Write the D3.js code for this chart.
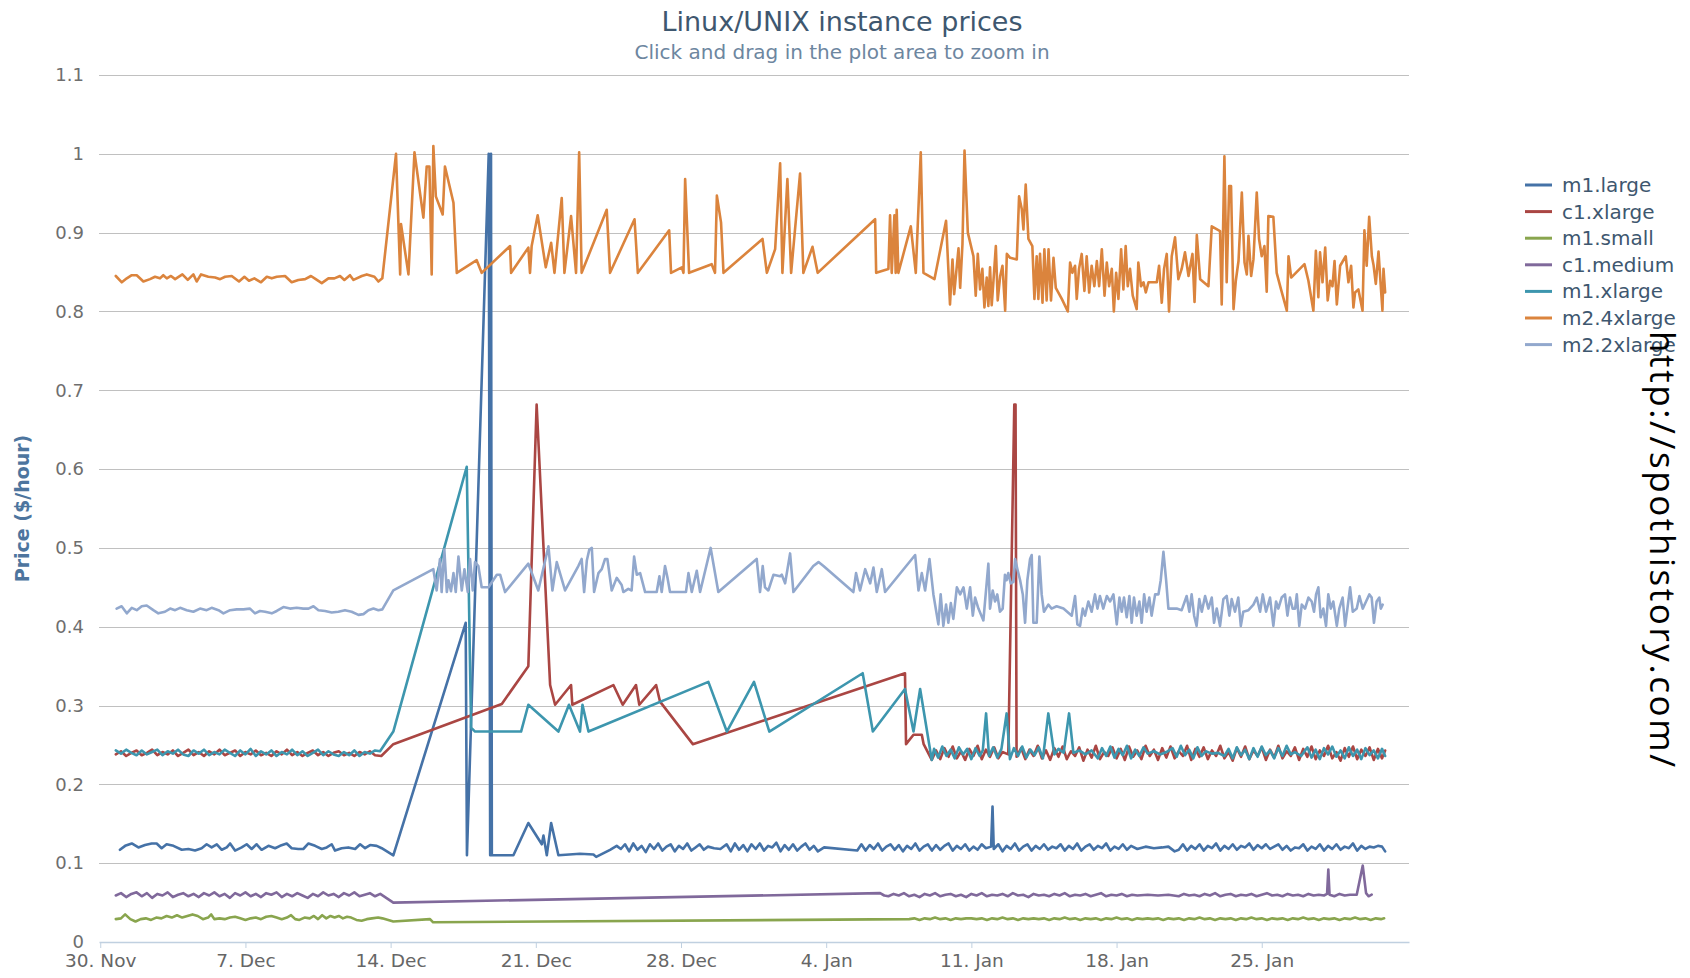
<!DOCTYPE html>
<html>
<head>
<meta charset="utf-8">
<title>Linux/UNIX instance prices</title>
<script src="https://cdn.jsdelivr.net/npm/d3@7"></script>
<style>
  html, body { margin: 0; padding: 0; background: #fff; }
  svg { display: block; font-family: "DejaVu Sans", sans-serif; }
</style>
</head>
<body>
<svg id="chart" width="1690" height="978"></svg>
<script>
// x values are days since 30 Nov 2009 (00:00 UTC), y values are $/hour
const startDate = Date.UTC(2009, 10, 30);

const seriesNames = ["m1.large", "c1.xlarge", "m1.small", "c1.medium", "m1.xlarge", "m2.4xlarge", "m2.2xlarge"];
const seriesColors = ["#4572A7", "#AA4643", "#89A54E", "#80699B", "#3D96AE", "#DB843D", "#92A8CD"];

const yTicks = [0, 0.1, 0.2, 0.3, 0.4, 0.5, 0.6, 0.7, 0.8, 0.9, 1, 1.1];
const xTickDates = ["2009-11-30", "2009-12-07", "2009-12-14", "2009-12-21", "2009-12-28", "2010-01-04", "2010-01-11", "2010-01-18", "2010-01-25"];

const m1Large = [
  [0.95,0.117],[1.20,0.122],[1.52,0.125],[1.84,0.120],[2.16,0.123],[2.48,0.125],[2.72,0.125],[2.96,0.119],[3.20,0.124],[3.53,0.122],
  [3.93,0.117],[4.25,0.118],[4.57,0.116],[4.89,0.119],[5.13,0.124],[5.37,0.120],[5.62,0.124],[5.86,0.117],[6.10,0.120],[6.26,0.125],
  [6.50,0.116],[6.82,0.120],[7.06,0.124],[7.30,0.118],[7.54,0.124],[7.78,0.117],[8.11,0.122],[8.43,0.119],[8.67,0.122],[8.99,0.125],
  [9.23,0.119],[9.55,0.118],[9.79,0.118],[10.04,0.125],[10.36,0.122],[10.68,0.118],[10.92,0.120],[11.16,0.124],[11.32,0.116],[11.64,0.119],
  [11.96,0.120],[12.29,0.118],[12.53,0.124],[12.77,0.119],[13.01,0.123],[13.33,0.122],[13.57,0.119],[14.13,0.110],
  [17.62,0.405],[17.68,0.110],[18.73,1.0],[18.80,0.110],[18.84,1.0],[18.88,0.110],
  [19.92,0.110],[20.64,0.151],[21.29,0.124],[21.37,0.135],[21.53,0.110],[21.74,0.151],[22.09,0.110],
  [23.13,0.112],[23.78,0.111],[23.91,0.108],[24.58,0.117],[24.90,0.122],
  [25.1,0.118],[25.3,0.124],[25.5,0.115],[25.7,0.125],[25.9,0.117],[26.1,0.122],[26.3,0.114],[26.5,0.124],[26.7,0.118],[26.9,0.125],
  [27.1,0.116],[27.3,0.121],[27.5,0.124],[27.7,0.115],[27.9,0.122],[28.1,0.118],[28.3,0.125],[28.5,0.116],[28.7,0.120],[28.9,0.124],
  [29.1,0.117],[29.3,0.121],[29.6,0.119],[29.9,0.118],[30.2,0.124],[30.4,0.115],[30.6,0.125],[30.8,0.117],[31.0,0.123],[31.2,0.115],
  [31.4,0.124],[31.6,0.118],[31.8,0.125],[32.0,0.116],[32.2,0.122],[32.4,0.120],[32.6,0.126],[32.8,0.115],[33.0,0.123],[33.2,0.117],
  [33.4,0.124],[33.6,0.116],[33.8,0.121],[34.0,0.125],[34.2,0.117],[34.4,0.122],[34.6,0.115],[34.9,0.120],[36.5,0.116],
  [36.7,0.124],[36.9,0.116],[37.1,0.123],[37.3,0.118],[37.5,0.125],[37.7,0.116],[37.9,0.121],[38.1,0.124],[38.3,0.117],[38.5,0.123],
  [38.7,0.115],[38.9,0.122],[39.1,0.118],[39.3,0.125],[39.5,0.116],[39.7,0.121],[39.9,0.124],[40.1,0.116],[40.3,0.123],[40.5,0.117],
  [40.7,0.122],[40.9,0.125],[41.1,0.116],[41.3,0.122],[41.5,0.118],[41.7,0.124],[41.9,0.116],[42.1,0.121],[42.3,0.117],[42.5,0.124],
  [42.7,0.119],[42.95,0.121],[43.02,0.172],[43.08,0.118],
  [43.3,0.124],[43.5,0.115],[43.7,0.122],[43.9,0.118],[44.1,0.125],[44.3,0.116],[44.5,0.121],[44.7,0.124],[44.9,0.116],[45.1,0.122],
  [45.3,0.118],[45.5,0.124],[45.7,0.117],[45.9,0.121],[46.1,0.119],[46.3,0.124],[46.5,0.116],[46.7,0.122],[46.9,0.118],[47.1,0.125],
  [47.3,0.116],[47.5,0.121],[47.7,0.124],[47.9,0.117],[48.1,0.122],[48.3,0.119],[48.5,0.125],[48.7,0.116],[48.9,0.121],[49.1,0.118],
  [49.3,0.124],[49.5,0.117],[49.7,0.122],[50.0,0.118],[50.4,0.121],[50.8,0.119],[51.2,0.120],[51.5,0.121],[51.8,0.115],[52.0,0.117],
  [52.2,0.124],[52.4,0.116],[52.6,0.122],[52.8,0.118],[53.0,0.124],[53.2,0.116],[53.4,0.122],[53.6,0.119],[53.8,0.125],[54.0,0.116],
  [54.2,0.122],[54.4,0.118],[54.6,0.124],[54.8,0.117],[55.0,0.122],[55.2,0.120],[55.4,0.125],[55.6,0.117],[55.8,0.123],[56.0,0.119],
  [56.2,0.124],[56.4,0.118],[56.6,0.121],[56.8,0.124],[57.0,0.117],[57.2,0.122],[57.4,0.116],[57.6,0.120],[57.8,0.119],[58.0,0.124],
  [58.2,0.116],[58.4,0.121],[58.6,0.118],[58.8,0.124],[59.0,0.116],[59.2,0.122],[59.4,0.118],[59.6,0.124],[59.8,0.117],[60.0,0.121],
  [60.2,0.119],[60.4,0.125],[60.6,0.116],[60.8,0.122],[61.0,0.118],[61.2,0.121],[61.4,0.120],[61.6,0.122],[61.8,0.121],[61.95,0.115]
];

const c1Xlarge = [
  [0.75,0.238],[1.0,0.242],[1.25,0.236],[1.5,0.240],[1.75,0.243],[2.0,0.237],[2.25,0.240],[2.5,0.244],[2.75,0.237],[3.0,0.241],
  [3.25,0.238],[3.5,0.243],[3.75,0.236],[4.0,0.240],[4.25,0.244],[4.5,0.237],[4.75,0.241],[5.0,0.236],[5.25,0.242],[5.5,0.238],
  [5.75,0.244],[6.0,0.237],[6.25,0.240],[6.5,0.243],[6.75,0.236],[7.0,0.241],[7.25,0.238],[7.5,0.243],[7.75,0.237],[8.0,0.240],
  [8.25,0.236],[8.5,0.242],[8.75,0.238],[9.0,0.244],[9.25,0.237],[9.5,0.241],[9.75,0.236],[10.0,0.240],[10.25,0.243],[10.5,0.237],
  [10.75,0.241],[11.0,0.236],[11.25,0.240],[11.5,0.242],[11.75,0.237],[12.0,0.240],[12.25,0.236],[12.5,0.241],[12.75,0.238],[13.0,0.242],
  [13.25,0.237],[13.55,0.236],
  [14.13,0.251],[19.36,0.302],[20.64,0.350],[21.04,0.682],[21.69,0.326],[21.93,0.301],[22.70,0.326],[22.76,0.301],
  [24.74,0.326],[25.19,0.301],[25.83,0.326],[25.99,0.301],[26.80,0.326],[26.99,0.305],[28.57,0.251],[38.80,0.341],[38.85,0.251],
  [39.21,0.263],[39.61,0.263],[39.70,0.251],[40.09,0.231],
  [40.3,0.243],[40.5,0.232],[40.7,0.246],[40.9,0.235],[41.1,0.248],[41.3,0.233],[41.5,0.242],[41.7,0.231],[41.9,0.245],[42.1,0.236],
  [42.3,0.249],[42.5,0.232],[42.7,0.244],[42.9,0.235],[43.1,0.247],[43.3,0.233],[43.5,0.241],[43.78,0.238],[44.07,0.682],[44.13,0.682],
  [44.18,0.235],[44.4,0.246],[44.6,0.232],[44.8,0.244],[45.0,0.236],[45.2,0.249],[45.4,0.233],[45.6,0.243],[45.8,0.231],[46.0,0.246],
  [46.2,0.235],[46.4,0.248],[46.6,0.232],[46.8,0.242],[47.0,0.236],[47.2,0.247],[47.4,0.230],[47.6,0.244],[47.8,0.234],[48.0,0.249],
  [48.2,0.232],[48.4,0.241],[48.6,0.236],[48.8,0.247],[49.0,0.233],[49.2,0.245],[49.4,0.231],[49.6,0.248],[49.8,0.235],[50.0,0.243],
  [50.2,0.232],[50.4,0.249],[50.6,0.236],[50.8,0.244],[51.0,0.231],[51.2,0.246],[51.4,0.234],[51.6,0.248],[51.8,0.233],[52.0,0.242],
  [52.2,0.236],[52.4,0.249],[52.6,0.231],[52.8,0.245],[53.0,0.235],[53.2,0.247],[53.4,0.232],[53.6,0.243],[53.8,0.236],[54.0,0.249],
  [54.2,0.233],[54.4,0.241],[54.6,0.230],[54.8,0.246],[55.0,0.235],[55.2,0.248],[55.4,0.232],[55.6,0.243],[55.8,0.236],[56.0,0.247],
  [56.2,0.231],[56.4,0.244],[56.6,0.234],[56.8,0.249],[57.0,0.233],[57.2,0.242],[57.4,0.236],[57.6,0.247],[57.8,0.231],[58.0,0.245],
  [58.2,0.235],[58.4,0.248],[58.6,0.232],[58.8,0.243],[59.0,0.236],[59.2,0.249],[59.4,0.233],[59.6,0.241],[59.8,0.230],[60.0,0.246],
  [60.2,0.235],[60.4,0.248],[60.6,0.232],[60.8,0.244],[61.0,0.236],[61.2,0.247],[61.4,0.231],[61.6,0.245],[61.8,0.233],[61.95,0.243]
];

const m1Small = [
  [0.75,0.029],[1.0,0.030],[1.2,0.035],[1.45,0.029],[1.7,0.026],[1.95,0.029],[2.2,0.030],[2.45,0.028],[2.7,0.031],[2.95,0.030],
  [3.2,0.033],[3.45,0.031],[3.7,0.034],[3.95,0.031],[4.2,0.033],[4.45,0.035],[4.7,0.033],[4.95,0.029],[5.2,0.031],[5.35,0.035],
  [5.5,0.029],[5.75,0.030],[6.0,0.029],[6.25,0.031],[6.5,0.032],[6.75,0.030],[7.0,0.028],[7.25,0.030],[7.5,0.031],[7.75,0.029],
  [8.0,0.032],[8.25,0.033],[8.5,0.031],[8.75,0.029],[9.0,0.031],[9.2,0.034],[9.4,0.029],[9.6,0.028],[9.85,0.031],[10.1,0.030],
  [10.3,0.033],[10.5,0.029],[10.7,0.034],[10.9,0.030],[11.1,0.033],[11.3,0.031],[11.5,0.033],[11.7,0.030],[11.9,0.032],[12.1,0.031],
  [12.35,0.028],[12.6,0.027],[12.85,0.029],[13.1,0.030],[13.4,0.031],[13.6,0.030],[14.13,0.026],[15.9,0.029],[16.05,0.025],[39.0,0.029],
  [39.25,0.030],[39.5,0.028],[39.75,0.030],[40.0,0.029],[40.25,0.031],[40.5,0.029],[40.75,0.030],[41.0,0.028],[41.25,0.030],[41.5,0.029],
  [41.75,0.030],[42.0,0.030],[42.25,0.029],[42.5,0.030],[42.75,0.028],[43.0,0.030],[43.25,0.029],[43.5,0.031],[43.75,0.029],[44.0,0.030],
  [44.25,0.028],[44.5,0.030],[44.75,0.029],[45.0,0.030],[45.25,0.029],[45.5,0.030],[45.75,0.028],[46.0,0.030],[46.25,0.029],[46.5,0.031],
  [46.75,0.029],[47.0,0.030],[47.25,0.028],[47.5,0.030],[47.75,0.029],[48.0,0.030],[48.25,0.028],[48.5,0.030],[48.75,0.029],[49.0,0.031],
  [49.25,0.029],[49.5,0.030],[49.75,0.028],[50.0,0.030],[50.25,0.029],[50.5,0.030],[50.75,0.029],[51.0,0.030],[51.25,0.028],[51.5,0.030],
  [51.75,0.029],[52.0,0.030],[52.25,0.028],[52.5,0.030],[52.75,0.029],[53.0,0.031],[53.25,0.029],[53.5,0.030],[53.75,0.028],[54.0,0.030],
  [54.25,0.029],[54.5,0.030],[54.75,0.028],[55.0,0.030],[55.25,0.029],[55.5,0.031],[55.75,0.029],[56.0,0.030],[56.25,0.028],[56.5,0.030],
  [56.75,0.029],[57.0,0.030],[57.25,0.028],[57.5,0.030],[57.75,0.029],[58.0,0.031],[58.25,0.029],[58.5,0.030],[58.75,0.028],[59.0,0.030],
  [59.25,0.029],[59.5,0.030],[59.75,0.028],[60.0,0.030],[60.25,0.029],[60.5,0.031],[60.75,0.029],[61.0,0.030],[61.25,0.028],[61.5,0.030],
  [61.75,0.029],[61.9,0.030]
];

const c1Medium = [
  [0.75,0.059],[1.0,0.062],[1.25,0.057],[1.5,0.061],[1.75,0.063],[2.0,0.058],[2.25,0.062],[2.5,0.056],[2.75,0.061],[3.0,0.059],
  [3.25,0.063],[3.5,0.057],[3.75,0.060],[4.0,0.062],[4.25,0.058],[4.5,0.061],[4.75,0.057],[5.0,0.062],[5.25,0.059],[5.5,0.063],
  [5.75,0.058],[6.0,0.061],[6.25,0.056],[6.5,0.062],[6.75,0.059],[7.0,0.063],[7.25,0.058],[7.5,0.061],[7.75,0.057],[8.0,0.062],
  [8.25,0.060],[8.5,0.063],[8.75,0.057],[9.0,0.061],[9.25,0.058],[9.5,0.062],[9.75,0.059],[10.0,0.056],[10.25,0.061],[10.5,0.058],
  [10.75,0.063],[11.0,0.059],[11.25,0.061],[11.5,0.057],[11.75,0.062],[12.0,0.059],[12.25,0.063],[12.5,0.058],[12.75,0.060],[13.0,0.062],
  [13.25,0.058],[13.5,0.061],[14.13,0.050],[37.6,0.062],[37.8,0.059],
  [38.0,0.058],[38.25,0.061],[38.5,0.059],[38.75,0.062],[39.0,0.058],[39.25,0.060],[39.5,0.057],[39.75,0.061],[40.0,0.059],[40.25,0.062],
  [40.5,0.058],[40.75,0.060],[41.0,0.061],[41.25,0.058],[41.5,0.060],[41.75,0.057],[42.0,0.061],[42.25,0.059],[42.5,0.062],[42.75,0.058],
  [43.0,0.060],[43.25,0.059],[43.5,0.061],[43.75,0.058],[44.0,0.062],[44.25,0.059],[44.5,0.060],[44.75,0.057],[45.0,0.061],[45.25,0.059],
  [45.5,0.060],[45.75,0.058],[46.0,0.061],[46.25,0.059],[46.5,0.062],[46.75,0.058],[47.0,0.060],[47.25,0.059],[47.5,0.061],[47.75,0.058],
  [48.0,0.060],[48.25,0.062],[48.5,0.058],[48.75,0.060],[49.0,0.059],[49.25,0.061],[49.5,0.058],[49.75,0.060],[50.0,0.059],[50.5,0.060],
  [51.0,0.059],[51.5,0.060],[52.0,0.058],[52.25,0.061],[52.5,0.059],[52.75,0.060],[53.0,0.058],[53.25,0.061],[53.5,0.059],[53.75,0.062],
  [54.0,0.058],[54.25,0.060],[54.5,0.061],[54.75,0.058],[55.0,0.060],[55.25,0.059],[55.5,0.061],[55.75,0.058],[56.0,0.060],[56.25,0.062],
  [56.5,0.059],[56.75,0.060],[57.0,0.058],[57.25,0.061],[57.5,0.059],[57.75,0.060],[58.0,0.058],[58.25,0.061],[58.5,0.059],[58.75,0.060],
  [59.0,0.059],[59.15,0.061],[59.21,0.092],[59.27,0.060],[59.5,0.058],[59.75,0.061],[60.0,0.059],[60.25,0.060],[60.58,0.060],[60.87,0.097],
  [61.03,0.062],[61.15,0.058],[61.30,0.060]
];

const m1Xlarge = [
  [0.75,0.243],[1.0,0.239],[1.25,0.244],[1.5,0.240],[1.75,0.237],[2.0,0.243],[2.25,0.238],[2.5,0.241],[2.75,0.244],[3.0,0.237],
  [3.25,0.242],[3.5,0.239],[3.75,0.244],[4.0,0.238],[4.25,0.236],[4.5,0.243],[4.75,0.239],[5.0,0.244],[5.25,0.237],[5.5,0.241],
  [5.75,0.238],[6.0,0.244],[6.25,0.240],[6.5,0.236],[6.75,0.243],[7.0,0.238],[7.25,0.245],[7.5,0.236],[7.75,0.242],[8.0,0.238],
  [8.25,0.243],[8.5,0.236],[8.75,0.241],[9.0,0.238],[9.25,0.244],[9.5,0.237],[9.75,0.242],[10.0,0.236],[10.25,0.240],[10.5,0.244],
  [10.75,0.237],[11.0,0.242],[11.25,0.238],[11.5,0.236],[11.75,0.241],[12.0,0.237],[12.25,0.243],[12.5,0.236],[12.75,0.241],[13.0,0.239],
  [13.25,0.243],[13.49,0.242],
  [14.13,0.267],[17.67,0.603],[17.88,0.272],[18.07,0.267],[20.29,0.267],[20.64,0.301],[22.09,0.267],[22.60,0.301],[23.13,0.267],[23.25,0.301],
  [23.54,0.267],[29.32,0.330],[30.21,0.267],[31.52,0.330],[32.26,0.267],[36.76,0.341],[37.25,0.267],[38.80,0.321],[39.21,0.267],[39.53,0.321],
  [40.09,0.231],
  [40.2,0.245],[40.4,0.234],[40.6,0.248],[40.8,0.236],[41.0,0.244],[41.2,0.233],[41.4,0.247],[41.6,0.238],[41.8,0.245],[42.0,0.232],
  [42.2,0.246],[42.4,0.236],[42.55,0.243],[42.71,0.290],[42.85,0.236],[43.05,0.247],[43.25,0.234],[43.45,0.245],[43.70,0.290],[43.86,0.232],
  [44.05,0.246],[44.25,0.236],[44.45,0.248],[44.65,0.234],[44.85,0.244],[45.05,0.237],[45.25,0.247],[45.45,0.233],[45.71,0.290],[46.0,0.238],
  [46.2,0.245],[46.45,0.240],[46.71,0.290],[46.92,0.240],[47.2,0.243],[47.5,0.238],[47.8,0.243],[48.1,0.233],[48.3,0.246],[48.5,0.236],
  [48.7,0.248],[48.9,0.234],[49.1,0.245],[49.3,0.237],[49.5,0.249],[49.7,0.233],[49.9,0.244],[50.1,0.236],[50.3,0.247],[50.5,0.239],
  [50.8,0.242],[51.1,0.238],[51.4,0.241],[51.7,0.246],[51.9,0.235],[52.1,0.249],[52.3,0.237],[52.5,0.244],[52.7,0.233],[52.9,0.247],
  [53.1,0.236],[53.3,0.242],[53.6,0.239],[53.9,0.240],[54.2,0.236],[54.4,0.245],[54.6,0.233],[54.8,0.247],[55.0,0.237],[55.2,0.244],
  [55.4,0.232],[55.6,0.246],[55.8,0.235],[56.0,0.248],[56.2,0.237],[56.4,0.243],[56.6,0.233],[56.8,0.246],[57.0,0.236],[57.2,0.249],
  [57.4,0.238],[57.6,0.241],[57.9,0.236],[58.2,0.247],[58.4,0.234],[58.6,0.244],[58.8,0.232],[59.0,0.246],[59.2,0.238],[59.4,0.248],
  [59.6,0.235],[59.8,0.243],[60.0,0.233],[60.2,0.247],[60.4,0.236],[60.6,0.244],[60.8,0.232],[61.0,0.246],[61.2,0.237],[61.4,0.243],
  [61.6,0.233],[61.8,0.245],[61.95,0.236]
];

const m24xlarge = [
  [0.75,0.845],[1.04,0.837],[1.28,0.842],[1.52,0.846],[1.76,0.846],[2.08,0.838],[2.40,0.841],[2.64,0.844],[2.88,0.842],[3.04,0.846],
  [3.21,0.842],[3.41,0.845],[3.61,0.841],[3.96,0.847],[4.22,0.840],[4.49,0.847],[4.65,0.838],[4.86,0.847],[5.21,0.844],[5.54,0.843],
  [5.78,0.841],[6.02,0.844],[6.34,0.845],[6.69,0.838],[6.95,0.844],[7.17,0.839],[7.43,0.842],[7.75,0.837],[8.03,0.844],[8.27,0.842],
  [8.51,0.844],[8.91,0.845],[9.23,0.837],[9.55,0.840],[9.88,0.841],[10.16,0.845],[10.39,0.841],[10.68,0.836],[11.00,0.842],[11.29,0.842],
  [11.56,0.845],[11.77,0.840],[12.04,0.846],[12.21,0.840],[12.61,0.845],[12.85,0.847],[13.22,0.844],[13.41,0.838],[13.60,0.842],
  [14.26,1.000],[14.46,0.847],[14.50,0.911],[14.86,0.847],[15.15,1.002],[15.58,0.919],[15.74,0.984],[15.87,0.984],[15.98,0.847],[16.06,1.010],
  [16.18,0.946],[16.51,0.923],[16.62,0.984],[17.03,0.938],[17.19,0.849],[18.15,0.865],[18.39,0.849],[19.76,0.883],[19.81,0.849],[20.64,0.881],
  [20.72,0.849],[20.80,0.883],[21.09,0.922],[21.48,0.856],[21.74,0.887],[21.90,0.849],[22.25,0.944],[22.38,0.849],[22.70,0.921],[22.94,0.849],
  [23.09,1.002],[23.21,0.849],[24.42,0.929],[24.58,0.849],[25.76,0.917],[25.92,0.849],[27.43,0.903],[27.52,0.849],[28.04,0.856],[28.12,0.849],
  [28.20,0.968],[28.39,0.849],[29.48,0.860],[29.64,0.849],[29.73,0.947],[29.93,0.913],[30.05,0.849],[31.93,0.892],[32.14,0.849],[32.54,0.879],
  [32.78,0.988],[32.89,0.849],[33.13,0.968],[33.31,0.849],[33.74,0.975],[33.90,0.849],[34.34,0.882],[34.59,0.849],[37.36,0.917],[37.41,0.849],
  [38.00,0.854],[38.08,0.922],[38.16,0.849],[38.29,0.922],[38.35,0.849],[38.40,0.929],[38.48,0.849],[39.08,0.908],[39.32,0.849],[39.56,1.002],
  [39.69,0.849],[40.22,0.841],[40.78,0.915],[40.97,0.809],[41.09,0.866],[41.17,0.822],[41.38,0.880],[41.46,0.830],[41.57,0.885],[41.67,1.004],
  [41.83,0.900],[42.10,0.870],[42.21,0.820],[42.31,0.873],[42.42,0.828],[42.53,0.854],[42.63,0.805],[42.74,0.843],[42.82,0.807],[42.90,0.856],
  [42.98,0.808],[43.06,0.837],[43.18,0.883],[43.27,0.814],[43.39,0.845],[43.50,0.858],[43.63,0.801],[43.71,0.873],[43.87,0.868],[44.19,0.866],
  [44.30,0.946],[44.43,0.930],[44.51,0.904],[44.62,0.961],[44.75,0.892],[44.94,0.883],[45.04,0.816],[45.15,0.870],[45.23,0.816],[45.31,0.873],
  [45.43,0.811],[45.52,0.879],[45.63,0.814],[45.72,0.879],[45.84,0.814],[45.96,0.868],[46.07,0.830],[46.36,0.816],[46.65,0.800],[46.76,0.862],
  [46.87,0.849],[47.00,0.858],[47.08,0.816],[47.19,0.854],[47.32,0.873],[47.45,0.826],[47.56,0.870],[47.68,0.824],[47.80,0.858],[47.93,0.832],
  [48.05,0.864],[48.16,0.832],[48.29,0.879],[48.42,0.820],[48.53,0.862],[48.64,0.832],[48.77,0.854],[48.87,0.800],[48.98,0.849],[49.09,0.816],
  [49.22,0.879],[49.33,0.828],[49.44,0.883],[49.54,0.832],[49.65,0.854],[49.78,0.820],[49.97,0.803],[50.05,0.862],[50.18,0.832],[50.30,0.837],
  [50.41,0.824],[50.54,0.837],[50.94,0.837],[51.05,0.858],[51.18,0.811],[51.29,0.854],[51.42,0.873],[51.53,0.800],[51.66,0.870],[51.82,0.894],
  [51.98,0.841],[52.14,0.854],[52.30,0.875],[52.47,0.845],[52.66,0.873],[52.76,0.812],[52.87,0.897],[53.03,0.841],[53.43,0.832],[53.59,0.908],
  [53.99,0.902],[54.07,0.809],[54.20,0.997],[54.31,0.837],[54.43,0.959],[54.52,0.959],[54.64,0.803],[54.75,0.839],[54.88,0.864],[55.04,0.951],
  [55.17,0.862],[55.28,0.847],[55.36,0.896],[55.49,0.845],[55.60,0.866],[55.76,0.951],[55.87,0.892],[56.00,0.870],[56.13,0.883],[56.24,0.825],
  [56.32,0.921],[56.56,0.920],[56.72,0.849],[56.93,0.828],[57.21,0.801],[57.29,0.870],[57.42,0.843],[58.06,0.860],[58.25,0.839],[58.49,0.801],
  [58.61,0.877],[58.73,0.818],[58.81,0.875],[58.93,0.837],[59.06,0.881],[59.18,0.814],[59.30,0.839],[59.41,0.832],[59.51,0.864],[59.62,0.809],
  [59.78,0.858],[60.05,0.870],[60.18,0.837],[60.31,0.858],[60.42,0.805],[60.50,0.824],[60.66,0.828],[60.86,0.801],[60.95,0.903],[61.06,0.858],
  [61.18,0.920],[61.31,0.870],[61.39,0.859],[61.50,0.835],[61.63,0.876],[61.75,0.828],[61.82,0.801],[61.87,0.854],[61.95,0.824]
];

const m22xlarge = [
  [0.79,0.423],[1.03,0.426],[1.28,0.417],[1.52,0.424],[1.76,0.421],[2.00,0.426],[2.24,0.427],[2.56,0.421],[2.80,0.417],[3.12,0.419],
  [3.37,0.423],[3.61,0.421],[3.85,0.424],[4.17,0.421],[4.49,0.419],[4.81,0.423],[5.13,0.421],[5.37,0.424],[5.70,0.421],[5.94,0.417],
  [6.26,0.421],[6.58,0.422],[6.90,0.422],[7.22,0.423],[7.46,0.417],[7.70,0.420],[7.95,0.419],[8.27,0.417],[8.51,0.420],[8.83,0.425],
  [9.15,0.423],[9.47,0.424],[9.79,0.423],[10.04,0.423],[10.28,0.426],[10.52,0.421],[10.84,0.420],[11.16,0.418],[11.48,0.419],[11.80,0.421],
  [12.12,0.419],[12.45,0.415],[12.69,0.416],[12.93,0.421],[13.17,0.423],[13.41,0.421],[13.60,0.422],[14.13,0.446],[16.06,0.473],[16.22,0.446],
  [16.38,0.486],[16.46,0.444],[16.59,0.498],[16.71,0.444],[16.79,0.459],[16.91,0.445],[17.03,0.468],[17.14,0.444],[17.27,0.489],[17.43,0.446],
  [17.56,0.473],[17.72,0.444],[17.83,0.486],[17.96,0.446],[18.07,0.482],[18.23,0.477],[18.39,0.450],[18.72,0.450],[19.12,0.466],[19.28,0.466],
  [19.52,0.444],[20.64,0.480],[21.12,0.446],[21.61,0.502],[21.80,0.446],[22.01,0.482],[22.41,0.446],[23.05,0.477],
  [23.21,0.486],[23.33,0.444],[23.46,0.484],[23.58,0.498],[23.70,0.500],[23.81,0.444],[24.02,0.468],[24.18,0.473],[24.34,0.486],[24.45,0.486],
  [24.66,0.446],[24.90,0.462],[25.14,0.453],[25.22,0.444],[25.46,0.448],[25.62,0.446],[25.74,0.489],[25.87,0.466],[26.03,0.468],[26.16,0.455],
  [26.27,0.444],[26.83,0.444],[26.96,0.464],[27.07,0.444],[27.23,0.477],[27.35,0.462],[27.47,0.444],[28.24,0.444],[28.36,0.468],[28.52,0.444],
  [28.76,0.471],[28.92,0.444],[29.43,0.500],[29.80,0.444],[31.65,0.486],[31.81,0.444],[31.94,0.477],[32.05,0.450],[32.21,0.446],[32.46,0.466],
  [32.78,0.464],[32.86,0.466],[33.02,0.455],[33.26,0.493],[33.42,0.444],[34.38,0.477],[34.63,0.482],[34.87,0.477],[36.31,0.444],[36.44,0.468],
  [36.63,0.446],[36.88,0.473],[37.12,0.455],[37.28,0.475],[37.44,0.444],[37.68,0.473],[37.84,0.444],[39.29,0.491],[39.45,0.446],[39.61,0.468],
  [39.77,0.446],[39.98,0.486],[40.17,0.441],[40.41,0.403],[40.52,0.441],[40.65,0.401],[40.78,0.428],[40.89,0.405],[41.01,0.430],[41.13,0.410],
  [41.30,0.450],[41.46,0.441],[41.62,0.450],[41.78,0.423],[41.94,0.450],[42.07,0.414],[42.18,0.437],[42.34,0.423],[42.58,0.408],[42.82,0.480],
  [42.90,0.423],[43.03,0.446],[43.14,0.432],[43.25,0.441],[43.38,0.419],[43.51,0.423],[43.62,0.466],[43.70,0.459],[43.78,0.468],[43.90,0.455],
  [44.03,0.457],[44.11,0.486],[44.22,0.473],[44.35,0.459],[44.48,0.441],[44.59,0.405],[44.70,0.459],[44.83,0.486],[44.91,0.491],[44.99,0.405],
  [45.15,0.405],[45.28,0.489],[45.39,0.441],[45.50,0.419],[45.71,0.428],[45.87,0.423],[46.11,0.426],[46.44,0.423],[46.84,0.414],[47.00,0.439],
  [47.11,0.403],[47.24,0.401],[47.37,0.423],[47.48,0.414],[47.64,0.432],[47.80,0.419],[47.96,0.441],[48.08,0.423],[48.20,0.439],[48.36,0.423],
  [48.53,0.439],[48.69,0.432],[48.85,0.441],[49.01,0.403],[49.14,0.437],[49.25,0.419],[49.36,0.437],[49.49,0.412],[49.62,0.439],[49.73,0.405],
  [49.84,0.437],[49.97,0.414],[50.10,0.432],[50.21,0.405],[50.33,0.441],[50.45,0.419],[50.58,0.437],[50.69,0.414],[50.86,0.441],[51.02,0.441],
  [51.13,0.459],[51.26,0.495],[51.39,0.459],[51.50,0.423],[51.66,0.423],[51.90,0.423],[52.14,0.421],[52.38,0.439],[52.51,0.419],[52.62,0.441],
  [52.74,0.414],[52.86,0.401],[52.99,0.435],[53.11,0.419],[53.27,0.439],[53.43,0.423],[53.59,0.437],[53.70,0.405],[53.83,0.423],[53.99,0.401],
  [54.15,0.435],[54.31,0.439],[54.44,0.414],[54.55,0.435],[54.71,0.419],[54.87,0.437],[54.99,0.401],[55.11,0.419],[55.36,0.421],[55.60,0.428],
  [55.76,0.437],[55.92,0.419],[56.05,0.441],[56.21,0.419],[56.40,0.437],[56.56,0.401],[56.69,0.432],[56.80,0.423],[56.96,0.437],[57.12,0.441],
  [57.24,0.414],[57.36,0.437],[57.49,0.423],[57.61,0.423],[57.69,0.441],[57.81,0.401],[57.93,0.428],[58.09,0.423],[58.25,0.437],[58.41,0.432],
  [58.52,0.419],[58.62,0.441],[58.73,0.450],[58.84,0.412],[58.97,0.423],[59.10,0.401],[59.21,0.441],[59.33,0.423],[59.45,0.432],[59.62,0.401],
  [59.74,0.423],[59.90,0.437],[60.02,0.401],[60.13,0.423],[60.26,0.450],[60.39,0.419],[60.58,0.423],[60.71,0.439],[60.87,0.423],[61.03,0.432],
  [61.19,0.441],[61.30,0.437],[61.41,0.405],[61.54,0.432],[61.67,0.437],[61.74,0.423],[61.83,0.428]
];

const seriesData = [m1Large, c1Xlarge, m1Small, c1Medium, m1Xlarge, m24xlarge, m22xlarge];

// ---- layout ----
const width = 1690, height = 978;
const plot = { left: 99, right: 1409, top: 75, bottom: 942 };

const svg = d3.select("#chart");

const toDate = d => new Date(startDate + d * 864e5);

const x = d3.scaleUtc()
    .domain([toDate(-0.06), toDate(63.1)])
    .range([plot.left, plot.right]);

const y = d3.scaleLinear()
    .domain([0, 1.1])
    .range([plot.bottom, plot.top]);

// Horizontal grid lines
svg.append("g")
    .attr("class", "grid")
    .selectAll("line")
    .data(yTicks.filter(d => d > 0))
    .enter().append("line")
    .attr("x1", plot.left)
    .attr("x2", plot.right)
    .attr("y1", d => Math.round(y(d)) + 0.5)
    .attr("y2", d => Math.round(y(d)) + 0.5)
    .style("stroke", "#C0C0C0")
    .style("stroke-width", 1);

// Y axis labels
const yAxis = svg.append("g")
    .attr("transform", `translate(${plot.left},0)`)
    .call(d3.axisLeft(y).tickValues(yTicks).tickSize(0).tickPadding(15).tickFormat(d => String(d)));
yAxis.select(".domain").remove();
yAxis.selectAll("text")
    .style("font-family", "'DejaVu Sans', sans-serif")
    .style("font-size", "18px")
    .style("fill", "#6e6e6e");

// X axis
const xAxis = svg.append("g")
    .attr("transform", `translate(0,${plot.bottom})`)
    .call(d3.axisBottom(x)
        .tickValues(xTickDates.map(s => new Date(s + "T00:00:00Z")))
        .tickSize(6)
        .tickSizeOuter(0)
        .tickPadding(6)
        .tickFormat(d3.utcFormat("%-d. %b")));
xAxis.select(".domain").style("stroke", "#C0D0E0").style("stroke-width", 1.5);
xAxis.selectAll(".tick line").style("stroke", "#C0D0E0");
xAxis.selectAll("text")
    .style("font-family", "'DejaVu Sans', sans-serif")
    .style("font-size", "18.5px")
    .style("fill", "#666");

// Y axis title
svg.append("text")
    .attr("transform", `translate(22,${(plot.top + plot.bottom) / 2}) rotate(-90)`)
    .attr("text-anchor", "middle")
    .attr("dy", "0.35em")
    .style("font-size", "19px")
    .style("font-weight", "bold")
    .style("fill", "#4D759E")
    .text("Price ($/hour)");

// Series lines
const line = d3.line()
    .x(d => x(toDate(d[0])))
    .y(d => y(d[1]));

svg.append("g")
    .attr("class", "series")
    .selectAll("path")
    .data(seriesData)
    .enter().append("path")
    .attr("d", line)
    .style("fill", "none")
    .style("stroke", (d, i) => seriesColors[i])
    .style("stroke-width", 2.6)
    .style("stroke-linejoin", "round")
    .style("stroke-linecap", "round");

// Title and subtitle
svg.append("text")
    .attr("x", 842)
    .attr("y", 31)
    .attr("text-anchor", "middle")
    .style("font-size", "27px")
    .style("fill", "#3E576F")
    .text("Linux/UNIX instance prices");

svg.append("text")
    .attr("x", 842)
    .attr("y", 59)
    .attr("text-anchor", "middle")
    .style("font-size", "20px")
    .style("fill", "#6D869F")
    .text("Click and drag in the plot area to zoom in");

// Legend
const legend = svg.append("g")
    .attr("class", "legend")
    .selectAll("g")
    .data(seriesNames)
    .enter().append("g")
    .attr("transform", (d, i) => `translate(1525,${185 + i * 26.6})`);

legend.append("line")
    .attr("x1", 0)
    .attr("x2", 27)
    .style("stroke", (d, i) => seriesColors[i])
    .style("stroke-width", 3);

legend.append("text")
    .attr("x", 37)
    .attr("dy", "0.35em")
    .style("font-size", "20px")
    .style("fill", "#3E576F")
    .text(d => d);

// Watermark, running down the right edge
svg.append("text")
    .attr("transform", "translate(1650,331) rotate(90)")
    .style("font-family", "'Open Sans', sans-serif")
    .style("font-size", "35px")
    .style("letter-spacing", "2.6px")
    .style("fill", "#000")
    .text("http://spothistory.com/");
</script>
</body>
</html>
